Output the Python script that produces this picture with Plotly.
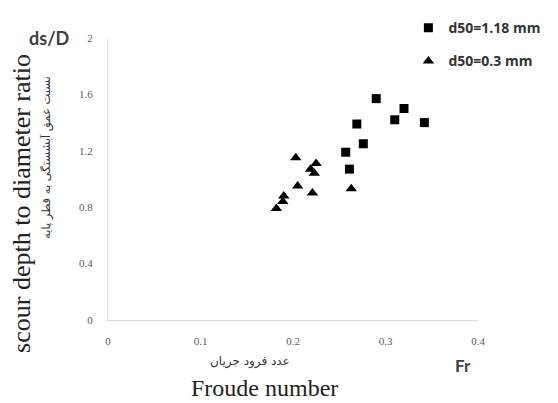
import plotly.graph_objects as go

# d50 = 1.18 mm (squares)
fr_coarse = [0.290, 0.320, 0.310, 0.342, 0.269, 0.276, 0.257, 0.261]
ds_coarse = [1.57, 1.50, 1.42, 1.40, 1.39, 1.25, 1.19, 1.07]

# d50 = 0.3 mm (triangles)
fr_fine = [0.203, 0.225, 0.219, 0.223, 0.205, 0.221, 0.263, 0.190, 0.189, 0.182]
ds_fine = [1.15, 1.11, 1.07, 1.04, 0.95, 0.90, 0.93, 0.88, 0.84, 0.79]

x_ticks = [0, 0.1, 0.2, 0.3, 0.4]
x_ticklabels = ["0", "0.1", "0.2", "0.3", "0.4"]
y_ticks = [0, 0.4, 0.8, 1.2, 1.6, 2.0]
y_ticklabels = ["0", "0.4", "0.8", "1.2", "1.6", "2"]

W, H = 558, 403
L, R, T, B = 108, 78, 37, 83
pw, ph = W - L - R, H - T - B


def px(x):
    return (x - L) / pw


def py(y):
    return (H - B - y) / ph


fig = go.Figure()
fig.add_trace(go.Scatter(
    x=fr_coarse, y=ds_coarse, mode="markers", name="<b>d50=1.18 mm</b>",
    legendgroup="a",
    marker=dict(symbol="square", size=9, color="black"),
))
fig.add_trace(go.Scatter(
    x=fr_fine, y=ds_fine, mode="markers", name="<b>d50=0.3 mm</b>",
    legendgroup="b",
    marker=dict(symbol="triangle-up", size=10, color="black"),
))

tickfont = dict(family="Liberation Serif", size=11, color="#595959")
fig.update_layout(
    width=W, height=H,
    margin=dict(l=L, r=R, t=T, b=B),
    paper_bgcolor="white", plot_bgcolor="white",
    xaxis=dict(range=[0, 0.4], tickvals=x_ticks, ticktext=x_ticklabels,
               showgrid=False, zeroline=False, showline=True,
               linecolor="#d9d9d9", linewidth=1, ticks="",
               tickfont=tickfont, ticklabelstandoff=11),
    yaxis=dict(range=[0, 2], tickvals=y_ticks, ticktext=y_ticklabels,
               showgrid=False, zeroline=False, showline=True,
               linecolor="#d9d9d9", linewidth=1, ticks="",
               tickfont=tickfont, ticklabelstandoff=12),
    showlegend=True,
    legend=dict(x=px(410), y=py(11), xanchor="left", yanchor="top",
                bgcolor="rgba(0,0,0,0)", tracegroupgap=12,
                font=dict(family="Open Sans", size=14, color="#333333"),
                itemwidth=30),
)

anns = [
    dict(text="<b>ds/D</b>", x=px(49), y=py(37),
         font=dict(family="Lato", size=18, color="#404040")),
    dict(text="scour depth to diameter ratio", x=px(21), y=py(203),
         textangle=-90, font=dict(family="Liberation Serif", size=26, color="#222222")),
    dict(text="نسبت عمق آبشستگی به قطر پایه", x=px(46), y=py(157),
         textangle=-90, font=dict(family="DejaVu Sans", size=11.5, color="#333333")),
    dict(text="عدد فرود جریان", x=px(251), y=py(362),
         font=dict(family="DejaVu Sans", size=12, color="#333333")),
    dict(text="Froude number", x=px(265), y=py(388),
         font=dict(family="Liberation Serif", size=24, color="#222222")),
    dict(text="<b>Fr</b>", x=px(465), y=py(366),
         font=dict(family="Lato", size=17, color="#404040")),
]
for a in anns:
    fig.add_annotation(xref="paper", yref="paper", showarrow=False,
                       xanchor="center", yanchor="middle", **a)

fig.write_html("out.html")
